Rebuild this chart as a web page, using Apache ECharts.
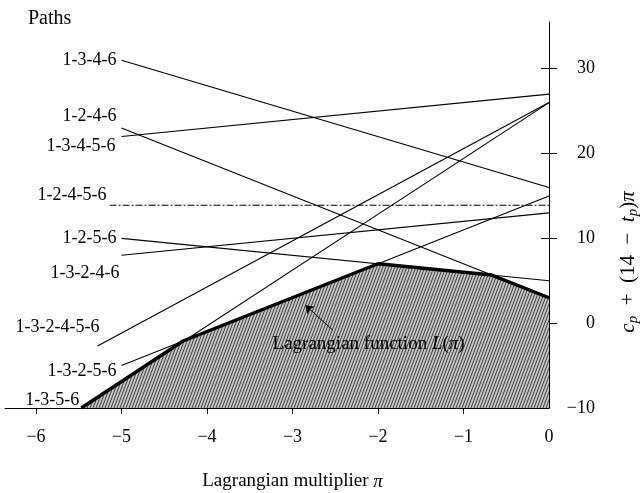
<!DOCTYPE html>
<html>
<head>
<meta charset="utf-8">
<script src="https://cdn.jsdelivr.net/npm/echarts@6/dist/echarts.min.js"></script>
<style>
  html, body { margin: 0; padding: 0; background: #fff; }
  #main { width: 640px; height: 493px; }
</style>
</head>
<body>
<div id="main"></div>
<script>
// paths and their lines c_p + (14 - t_p) * pi
const pathNames = ['1-3-4-6', '1-2-4-6', '1-3-4-5-6', '1-2-4-5-6', '1-2-5-6',
  '1-3-2-4-6', '1-3-2-4-5-6', '1-3-2-5-6', '1-3-5-6'];
const startPi = [-5, -5, -5, -5.14, -5, -5, -5.28, -5, -5.47];
const startVal = [31, 23, 22, 13.9, 10, 8, -2.7, -5, -10];
const endVal = [16, 3, 27, 13.9, 5, 13, 26, 15, 26];

// lower envelope L(pi)
const lagrangePi = [-5.47, -4.28, -2, -0.67, 0];
const lagrangeVal = [-10, -2.1, 7, 5.67, 3];

// tick values
const xTicks = [-6, -5, -4, -3, -2, -1];
const xLabels = [-6, -5, -4, -3, -2, -1, 0];
const yTicks = [0, 10, 20, 30];
const yLabels = [-10, 0, 10, 20, 30];

// label placement next to the line starts (gap to the left, vertical shift)
const labelGap = [5, 5, 6, 3, 5, 2, -2, 5, 2];
const labelDy = [0, -12, 10, -10, 0, 18, -19, 6, -8];

const FONT = 'Liberation Serif';

function minus(v) {
  return v < 0 ? '\u2212' + Math.abs(v) : String(v);
}

// diagonal hatching for the area under L(pi)
function hatch() {
  const c = document.createElement('canvas');
  c.width = 3;
  c.height = 8;
  const g = c.getContext('2d');
  g.fillStyle = '#c6c6c6';
  g.fillRect(0, 0, 3, 8);
  g.strokeStyle = '#3a3a3a';
  g.lineWidth = 1;
  g.beginPath();
  [-3, 0, 3].forEach(o => {
    g.moveTo(o, 8);
    g.lineTo(o + 3, 0);
  });
  g.stroke();
  return c;
}

const chart = echarts.init(document.getElementById('main'), null, { renderer: 'canvas' });

const pathSeries = pathNames.map((name, i) => ({
  type: 'line',
  name: name,
  xAxisIndex: 1,
  yAxisIndex: 1,
  symbol: 'circle',
  symbolSize: 0,
  silent: true,
  lineStyle: { color: '#000', width: 1.1, type: i === 3 ? [7, 2, 2, 2] : 'solid' },
  itemStyle: { color: '#000' },
  data: [
    {
      value: [startPi[i], startVal[i]],
      label: {
        show: true,
        position: 'left',
        distance: labelGap[i],
        offset: [0, labelDy[i]],
        formatter: name,
        color: '#000',
        fontFamily: FONT,
        fontSize: 18
      }
    },
    [0, endVal[i]]
  ]
}));

const lagrangeSeries = {
  type: 'line',
  xAxisIndex: 1,
  yAxisIndex: 1,
  symbol: 'none',
  silent: true,
  lineStyle: { color: '#000', width: 3.4 },
  areaStyle: { origin: 'start', opacity: 1, color: { image: hatch(), repeat: 'repeat' } },
  data: lagrangePi.map((p, i) => [p, lagrangeVal[i]]),
  markLine: {
    silent: true,
    symbol: ['none', 'arrow'],
    symbolSize: 8,
    lineStyle: { color: '#000', width: 1, type: 'solid' },
    label: { show: false },
    data: [[{ coord: [-2.53, -0.82] }, { coord: [-2.85, 2.12] }]]
  },
  markPoint: {
    silent: true,
    symbol: 'circle',
    symbolSize: 0,
    data: [{
      coord: [-2.11, -2.47],
      label: {
        show: true,
        position: 'inside',
        formatter: 'Lagrangian function {i|L}({i|\u03c0})',
        color: '#000',
        fontFamily: FONT,
        fontSize: 19,
        rich: { i: { fontStyle: 'italic', fontFamily: FONT, fontSize: 19, color: '#000' } }
      }
    }]
  }
};

chart.setOption({
  animation: false,
  backgroundColor: '#fff',
  title: {
    text: 'Paths',
    left: 23,
    top: 4,
    textStyle: { fontFamily: FONT, fontSize: 20, fontWeight: 'normal', color: '#000' }
  },
  grid: [
    { left: 5, right: 91, top: 22, bottom: 85, outerBoundsMode: 'none' },
    { left: 36, right: 91, top: 22, bottom: 85, outerBoundsMode: 'none' }
  ],
  xAxis: [
    {
      // only the long baseline reaching to the left edge
      type: 'value', gridIndex: 0, min: -6.36, max: 0,
      axisLine: { show: true, onZero: false, lineStyle: { color: '#000', width: 1 } },
      axisTick: { show: false }, axisLabel: { show: false }, splitLine: { show: false }
    },
    {
      type: 'value', gridIndex: 1, min: -6, max: 0, interval: 1,
      axisLine: { show: false, onZero: false },
      axisTick: { show: true, inside: false, length: 6, customValues: xTicks, lineStyle: { color: '#000' } },
      axisLabel: {
        customValues: xLabels, margin: 20, color: '#000',
        fontFamily: FONT, fontSize: 18, formatter: minus
      },
      splitLine: { show: false },
      name: 'Lagrangian multiplier {i|\u03c0}',
      nameLocation: 'middle',
      nameGap: 64,
      nameMoveOverlap: false,
      nameTextStyle: {
        fontFamily: FONT, fontSize: 19, color: '#000',
        rich: { i: { fontStyle: 'italic', fontFamily: FONT, fontSize: 19, color: '#000' } }
      }
    }
  ],
  yAxis: [
    { type: 'value', gridIndex: 0, min: -10, max: 35.5, show: false },
    {
      type: 'value', gridIndex: 1, position: 'right', min: -10, max: 35.5, interval: 10,
      axisLine: { show: true, onZero: false, lineStyle: { color: '#000', width: 1 } },
      axisTick: { show: true, inside: false, length: 8, customValues: yTicks, lineStyle: { color: '#000' } },
      axisLabel: {
        customValues: yLabels, align: 'right', margin: 46, color: '#000',
        fontFamily: FONT, fontSize: 18, formatter: minus
      },
      splitLine: { show: false }
    },
    {
      // inner half of the crossing ticks
      type: 'value', gridIndex: 1, position: 'right', min: -10, max: 35.5, interval: 10,
      axisLine: { show: false, onZero: false },
      axisTick: { show: true, inside: true, length: 8, customValues: yTicks, lineStyle: { color: '#000' } },
      axisLabel: { show: false },
      splitLine: { show: false }
    }
  ],
  graphic: [{
    type: 'text',
    x: 628,
    y: 262,
    rotation: Math.PI / 2,
    silent: true,
    style: {
      text: '{i|c}{s|p}  +  (14  \u2212  {i|t}{s|p}){i|\u03c0}',
      align: 'center',
      verticalAlign: 'middle',
      fill: '#000',
      fontFamily: FONT,
      fontSize: 21,
      rich: {
        i: { fontStyle: 'italic', fontFamily: FONT, fontSize: 21, fill: '#000' },
        s: { fontStyle: 'italic', fontFamily: FONT, fontSize: 15, fill: '#000', padding: [10, 0, 0, 0] }
      }
    }
  }],
  series: pathSeries.concat([lagrangeSeries])
});
</script>
</body>
</html>
